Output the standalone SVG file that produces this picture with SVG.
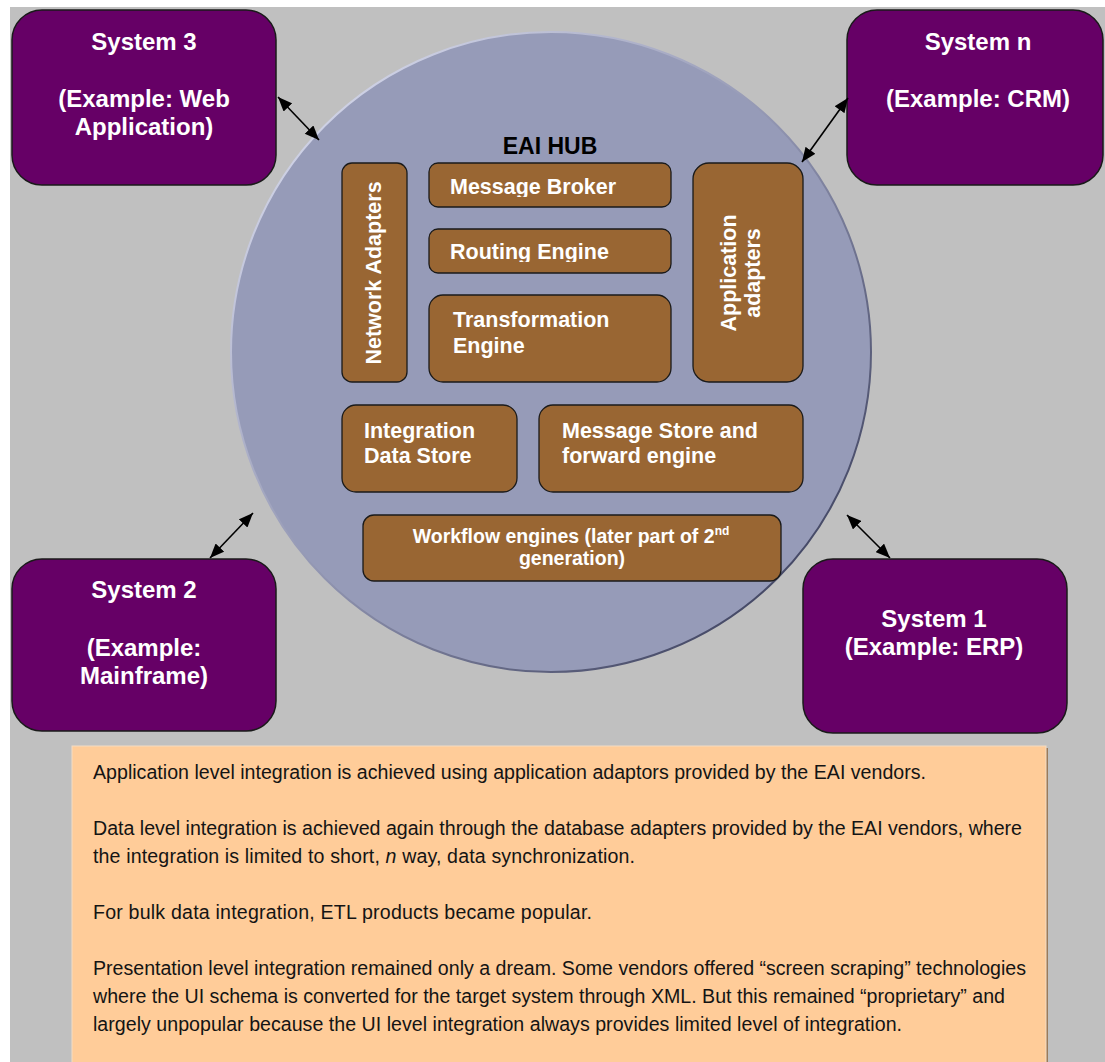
<svg xmlns="http://www.w3.org/2000/svg" width="1105" height="1062" viewBox="0 0 1105 1062">
  <style>
    .sys rect { fill: #660066; stroke: #1a1a1a; stroke-width: 1.5; }
    .sys text { fill: #ffffff; font-family: "Liberation Sans", Arial, sans-serif; font-weight: bold; font-size: 24px; text-anchor: middle; }
    .blk rect { fill: #996633; stroke: #1a1a1a; stroke-width: 1.3; }
    .blk text { fill: #ffffff; font-family: "Liberation Sans", Arial, sans-serif; font-weight: bold; font-size: 21.5px; }
    .blk text.small { font-size: 19.5px; text-anchor: middle; }
    .blk tspan.sup { font-size: 12px; }
    .conn line { stroke: #000000; stroke-width: 1.6; marker-start: url(#head); marker-end: url(#head); }
    .note text { fill: #141414; font-family: "Liberation Sans", Arial, sans-serif; font-size: 19.6px; }
  </style>
  <defs>
    <marker id="head" viewBox="0 0 12 10" refX="12" refY="5" markerUnits="userSpaceOnUse" markerWidth="15" markerHeight="12" orient="auto-start-reverse">
      <path d="M0,0 L12,5 L0,10 z" fill="#000000"/>
    </marker>
    <linearGradient id="hubEdge" gradientUnits="userSpaceOnUse" x1="300" y1="100" x2="800" y2="600">
      <stop offset="0" stop-color="#d4d7ea"/>
      <stop offset="0.5" stop-color="#9094b0"/>
      <stop offset="1" stop-color="#3f4360"/>
    </linearGradient>
    <clipPath id="clipBroker"><rect x="429" y="163" width="242" height="34"/></clipPath>
    <clipPath id="clipRouting"><rect x="429" y="229" width="242" height="33"/></clipPath>
  </defs>

  <!-- page background -->
  <rect x="0" y="0" width="1105" height="1062" fill="#ffffff"/>
  <rect x="10" y="7" width="1095" height="1055" fill="#c0c0c0"/>

  <!-- hub -->
  <g id="hub">
    <circle cx="551" cy="352" r="320" fill="#969bb8" stroke="url(#hubEdge)" stroke-width="2"/>
    <text x="550" y="154" font-family="Liberation Sans, Arial, sans-serif" font-weight="bold" font-size="23" text-anchor="middle" fill="#000000">EAI HUB</text>
  </g>

  <!-- external systems -->
  <g id="system3" class="sys">
    <rect x="12" y="10" width="264" height="175" rx="30"/>
    <text x="144" y="50">System 3</text>
    <text x="144" y="107">(Example: Web</text>
    <text x="144" y="135">Application)</text>
  </g>
  <g id="systemN" class="sys">
    <rect x="847" y="10" width="256" height="175" rx="30"/>
    <text x="978" y="50">System n</text>
    <text x="978" y="107">(Example: CRM)</text>
  </g>
  <g id="system2" class="sys">
    <rect x="12" y="559" width="264" height="172" rx="30"/>
    <text x="144" y="598">System 2</text>
    <text x="144" y="656">(Example:</text>
    <text x="144" y="684">Mainframe)</text>
  </g>
  <g id="system1" class="sys">
    <rect x="803" y="559" width="264" height="174" rx="30"/>
    <text x="934" y="627">System 1</text>
    <text x="934" y="655">(Example: ERP)</text>
  </g>

  <!-- hub components -->
  <g id="networkAdapters" class="blk">
    <rect x="342" y="163" width="65" height="219" rx="10"/>
    <text transform="translate(381,273) rotate(-90)" text-anchor="middle">Network Adapters</text>
  </g>
  <g id="messageBroker" class="blk">
    <rect x="429" y="163" width="242" height="44" rx="9"/>
    <text x="450" y="194" clip-path="url(#clipBroker)">Message Broker</text>
  </g>
  <g id="routingEngine" class="blk">
    <rect x="429" y="229" width="242" height="44" rx="9"/>
    <text x="450" y="259" clip-path="url(#clipRouting)">Routing Engine</text>
  </g>
  <g id="transformationEngine" class="blk">
    <rect x="429" y="295" width="242" height="87" rx="14"/>
    <text x="453" y="327">Transformation</text>
    <text x="453" y="353">Engine</text>
  </g>
  <g id="applicationAdapters" class="blk">
    <rect x="693" y="163" width="110" height="219" rx="16"/>
    <text transform="translate(736,273) rotate(-90)" text-anchor="middle">Application</text>
    <text transform="translate(760,273) rotate(-90)" text-anchor="middle">adapters</text>
  </g>
  <g id="integrationDataStore" class="blk">
    <rect x="342" y="405" width="175" height="87" rx="14"/>
    <text x="364" y="438">Integration</text>
    <text x="364" y="463">Data Store</text>
  </g>
  <g id="messageStore" class="blk">
    <rect x="539" y="405" width="264" height="87" rx="14"/>
    <text x="562" y="438">Message Store and</text>
    <text x="562" y="463">forward engine</text>
  </g>
  <g id="workflowEngines" class="blk">
    <rect x="363" y="515" width="418" height="66" rx="11"/>
    <text class="small" x="571" y="543">Workflow engines (later part of 2<tspan class="sup" dy="-8">nd</tspan></text>
    <text class="small" x="572" y="565">generation)</text>
  </g>

  <!-- two-way links between systems and the hub -->
  <g id="connectors" class="conn">
    <line x1="278" y1="97" x2="319" y2="140"/>
    <line x1="848" y1="98" x2="802" y2="162"/>
    <line x1="253" y1="513" x2="210" y2="558"/>
    <line x1="847" y1="515" x2="890" y2="558"/>
  </g>

  <!-- explanatory note -->
  <g id="note" class="note">
    <rect x="74" y="748" width="974" height="330" fill="#9a7a5a"/>
    <rect x="72" y="746" width="974" height="330" fill="#ffcc99" stroke="#f3dcc4" stroke-width="1"/>
    <text x="93" y="779" textLength="833">Application level integration is achieved using application adaptors provided by the EAI vendors.</text>
    <text x="93" y="835" textLength="929">Data level integration is achieved again through the database adapters provided by the EAI vendors, where</text>
    <text x="93" y="863" textLength="542">the integration is limited to short, <tspan font-style="italic">n</tspan> way, data synchronization.</text>
    <text x="93" y="919" textLength="499">For bulk data integration, ETL products became popular.</text>
    <text x="93" y="975" textLength="933">Presentation level integration remained only a dream. Some vendors offered “screen scraping” technologies</text>
    <text x="93" y="1003" textLength="912">where the UI schema is converted for the target system through XML. But this remained “proprietary” and</text>
    <text x="93" y="1031" textLength="809">largely unpopular because the UI level integration always provides limited level of integration.</text>
  </g>
</svg>
